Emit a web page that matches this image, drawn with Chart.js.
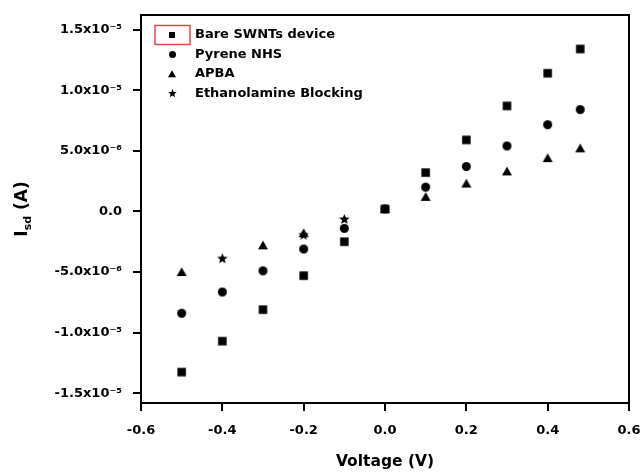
<!DOCTYPE html>
<html>
<head>
<meta charset="utf-8">
<script src="https://cdn.jsdelivr.net/npm/chart.js@4/dist/chart.umd.min.js"></script>
<style>
  html, body { margin: 0; padding: 0; background: #fff; overflow: hidden; }
  #wrap { width: 640px; height: 473px; }
</style>
</head>
<body>
<div id="wrap"><canvas id="iv"></canvas></div>
<script>
// I-V sweep, current in amperes
const voltage = [-0.5, -0.4, -0.3, -0.2, -0.1, 0.0, 0.1, 0.2, 0.3, 0.4, 0.48];
const bareSwnt = [-13.25e-6, -10.7e-6, -8.1e-6, -5.3e-6, -2.5e-6, 0.2e-6, 3.2e-6, 5.9e-6, 8.7e-6, 11.4e-6, 13.4e-6];
const pyreneNhs = [-8.4e-6, -6.65e-6, -4.9e-6, -3.1e-6, -1.4e-6, 0.2e-6, 2.0e-6, 3.7e-6, 5.4e-6, 7.15e-6, 8.4e-6];
const apba = [-5.0e-6, null, -2.8e-6, -1.8e-6, null, 0.2e-6, 1.2e-6, 2.3e-6, 3.3e-6, 4.4e-6, 5.2e-6];
const ethanolamine = [null, -3.9e-6, null, -1.95e-6, -0.66e-6, null, null, null, null, null, null];

const seriesNames = ['Bare SWNTs device', 'Pyrene NHS', 'APBA', 'Ethanolamine Blocking'];

const xTicks = [-0.6, -0.4, -0.2, 0.0, 0.2, 0.4, 0.6];
const xTickLabels = ['-0.6', '-0.4', '-0.2', '0.0', '0.2', '0.4', '0.6'];
const yTicks = [-1.5e-5, -1.0e-5, -5.0e-6, 0, 5.0e-6, 1.0e-5, 1.5e-5];
const yTickLabels = ['-1.5x10⁻⁵', '-1.0x10⁻⁵', '-5.0x10⁻⁶', '0.0', '5.0x10⁻⁶', '1.0x10⁻⁵', '1.5x10⁻⁵'];

const FONT = '"DejaVu Sans", "Liberation Sans", sans-serif';

// filled marker drawn once into a small canvas, used as a pointStyle
function marker(shape, size) {
  const s = Math.ceil(size) + 4;
  const c = document.createElement('canvas');
  c.width = s; c.height = s;
  const g = c.getContext('2d');
  const m = s / 2;
  g.fillStyle = '#000';
  g.beginPath();
  if (shape === 'square') {
    g.rect(m - size / 2, m - size / 2, size, size);
  } else if (shape === 'circle') {
    g.arc(m, m, size / 2, 0, Math.PI * 2);
  } else if (shape === 'triangle') {
    g.moveTo(m, m - size * 0.48);
    g.lineTo(m + size / 2, m + size * 0.4);
    g.lineTo(m - size / 2, m + size * 0.4);
    g.closePath();
  } else {
    for (let i = 0; i < 10; i++) {
      const r = i % 2 ? size * 0.22 : size / 2;
      const a = -Math.PI / 2 + i * Math.PI / 5;
      g.lineTo(m + r * Math.cos(a), m + r * Math.sin(a));
    }
    g.closePath();
  }
  g.fill();
  return c;
}

const pointIcons = [marker('square', 8.5), marker('circle', 9), marker('triangle', 10), marker('star', 11)];
const legendIcons = [marker('square', 6), marker('circle', 7), marker('triangle', 8), marker('star', 9)];

function points(values) {
  return voltage.map((v, i) => ({ x: v, y: values[i] })).filter(p => p.y !== null);
}

const allSeries = [bareSwnt, pyreneNhs, apba, ethanolamine];

// key box in the upper left corner of the plot
const keyPlugin = {
  id: 'keyBox',
  afterDatasetsDraw(chart) {
    const { ctx, chartArea } = chart;
    const x0 = chartArea.left + 31;
    const y0 = chartArea.top + 20;
    ctx.save();
    ctx.font = 'bold 13px ' + FONT;
    ctx.textBaseline = 'middle';
    ctx.fillStyle = '#000';
    chart.data.datasets.forEach((ds, i) => {
      const y = y0 + i * 19.4;
      const icon = legendIcons[i];
      ctx.drawImage(icon, Math.round(x0 - icon.width / 2), Math.round(y - icon.height / 2));
      ctx.fillText(ds.label, x0 + 23, y);
    });
    ctx.strokeStyle = '#e0474c';
    ctx.lineWidth = 1.5;
    ctx.strokeRect(x0 - 17, y0 - 9.5, 35, 19);
    ctx.restore();
  }
};

// closed frame plus the y title with its subscript
const framePlugin = {
  id: 'frame',
  afterDraw(chart) {
    const { ctx, chartArea } = chart;
    ctx.save();
    ctx.strokeStyle = '#000';
    ctx.lineWidth = 2;
    ctx.strokeRect(chartArea.left, chartArea.top, chartArea.right - chartArea.left, chartArea.bottom - chartArea.top);

    const cy = (chartArea.top + chartArea.bottom) / 2;
    const big = 'bold 17px ' + FONT;
    const small = 'bold 11px ' + FONT;
    ctx.translate(27, cy);
    ctx.rotate(-Math.PI / 2);
    ctx.fillStyle = '#000';
    ctx.textBaseline = 'alphabetic';
    ctx.font = big;
    const wI = ctx.measureText('I').width;
    const wA = ctx.measureText(' (A)').width;
    ctx.font = small;
    const wS = ctx.measureText('sd').width;
    let x = -(wI + wS + wA) / 2;
    ctx.font = big;
    ctx.fillText('I', x, 0);
    x += wI;
    ctx.font = small;
    ctx.fillText('sd', x, 4);
    x += wS;
    ctx.font = big;
    ctx.fillText(' (A)', x, 0);
    ctx.restore();
  }
};

const axisGrid = { drawOnChartArea: false, drawTicks: true, tickLength: 8, color: '#000', lineWidth: 2 };
const axisBorder = { display: true, color: '#000', width: 2 };
const tickFont = { family: FONT, size: 13, weight: 'bold' };

new Chart(document.getElementById('iv'), {
  type: 'scatter',
  data: {
    datasets: allSeries.map((vals, i) => ({
      label: seriesNames[i],
      data: points(vals),
      pointStyle: pointIcons[i],
      pointRadius: 5,
      pointHoverRadius: 5,
      showLine: false
    }))
  },
  options: {
    responsive: true,
    maintainAspectRatio: false,
    animation: false,
    devicePixelRatio: 1,
    layout: { padding: { top: 15, left: 0, right: 0, bottom: 0 } },
    plugins: {
      legend: { display: false },
      tooltip: { enabled: false }
    },
    scales: {
      x: {
        type: 'linear',
        min: -0.6,
        max: 0.6,
        afterBuildTicks: s => { s.ticks = xTicks.map(v => ({ value: v })); },
        afterFit: s => { s.height = 70; s.paddingRight = 11; },
        ticks: {
          callback: (v, i) => xTickLabels[i],
          font: tickFont,
          color: '#000',
          padding: 12,
          maxRotation: 0,
          autoSkip: false
        },
        grid: axisGrid,
        border: axisBorder,
        title: {
          display: true,
          text: 'Voltage (V)',
          color: '#000',
          font: { family: FONT, size: 15.5, weight: 'bold' },
          padding: { top: 12, bottom: 2 }
        }
      },
      y: {
        type: 'linear',
        min: -1.58e-5,
        max: 1.62e-5,
        afterBuildTicks: s => { s.ticks = yTicks.map(v => ({ value: v })); },
        afterFit: s => { s.width = 141; s.paddingTop = 0; s.paddingBottom = 0; },
        ticks: {
          callback: (v, i) => yTickLabels[i],
          font: tickFont,
          color: '#000',
          padding: 11,
          autoSkip: false
        },
        grid: axisGrid,
        border: axisBorder
      }
    }
  },
  plugins: [keyPlugin, framePlugin]
});
</script>
</body>
</html>
